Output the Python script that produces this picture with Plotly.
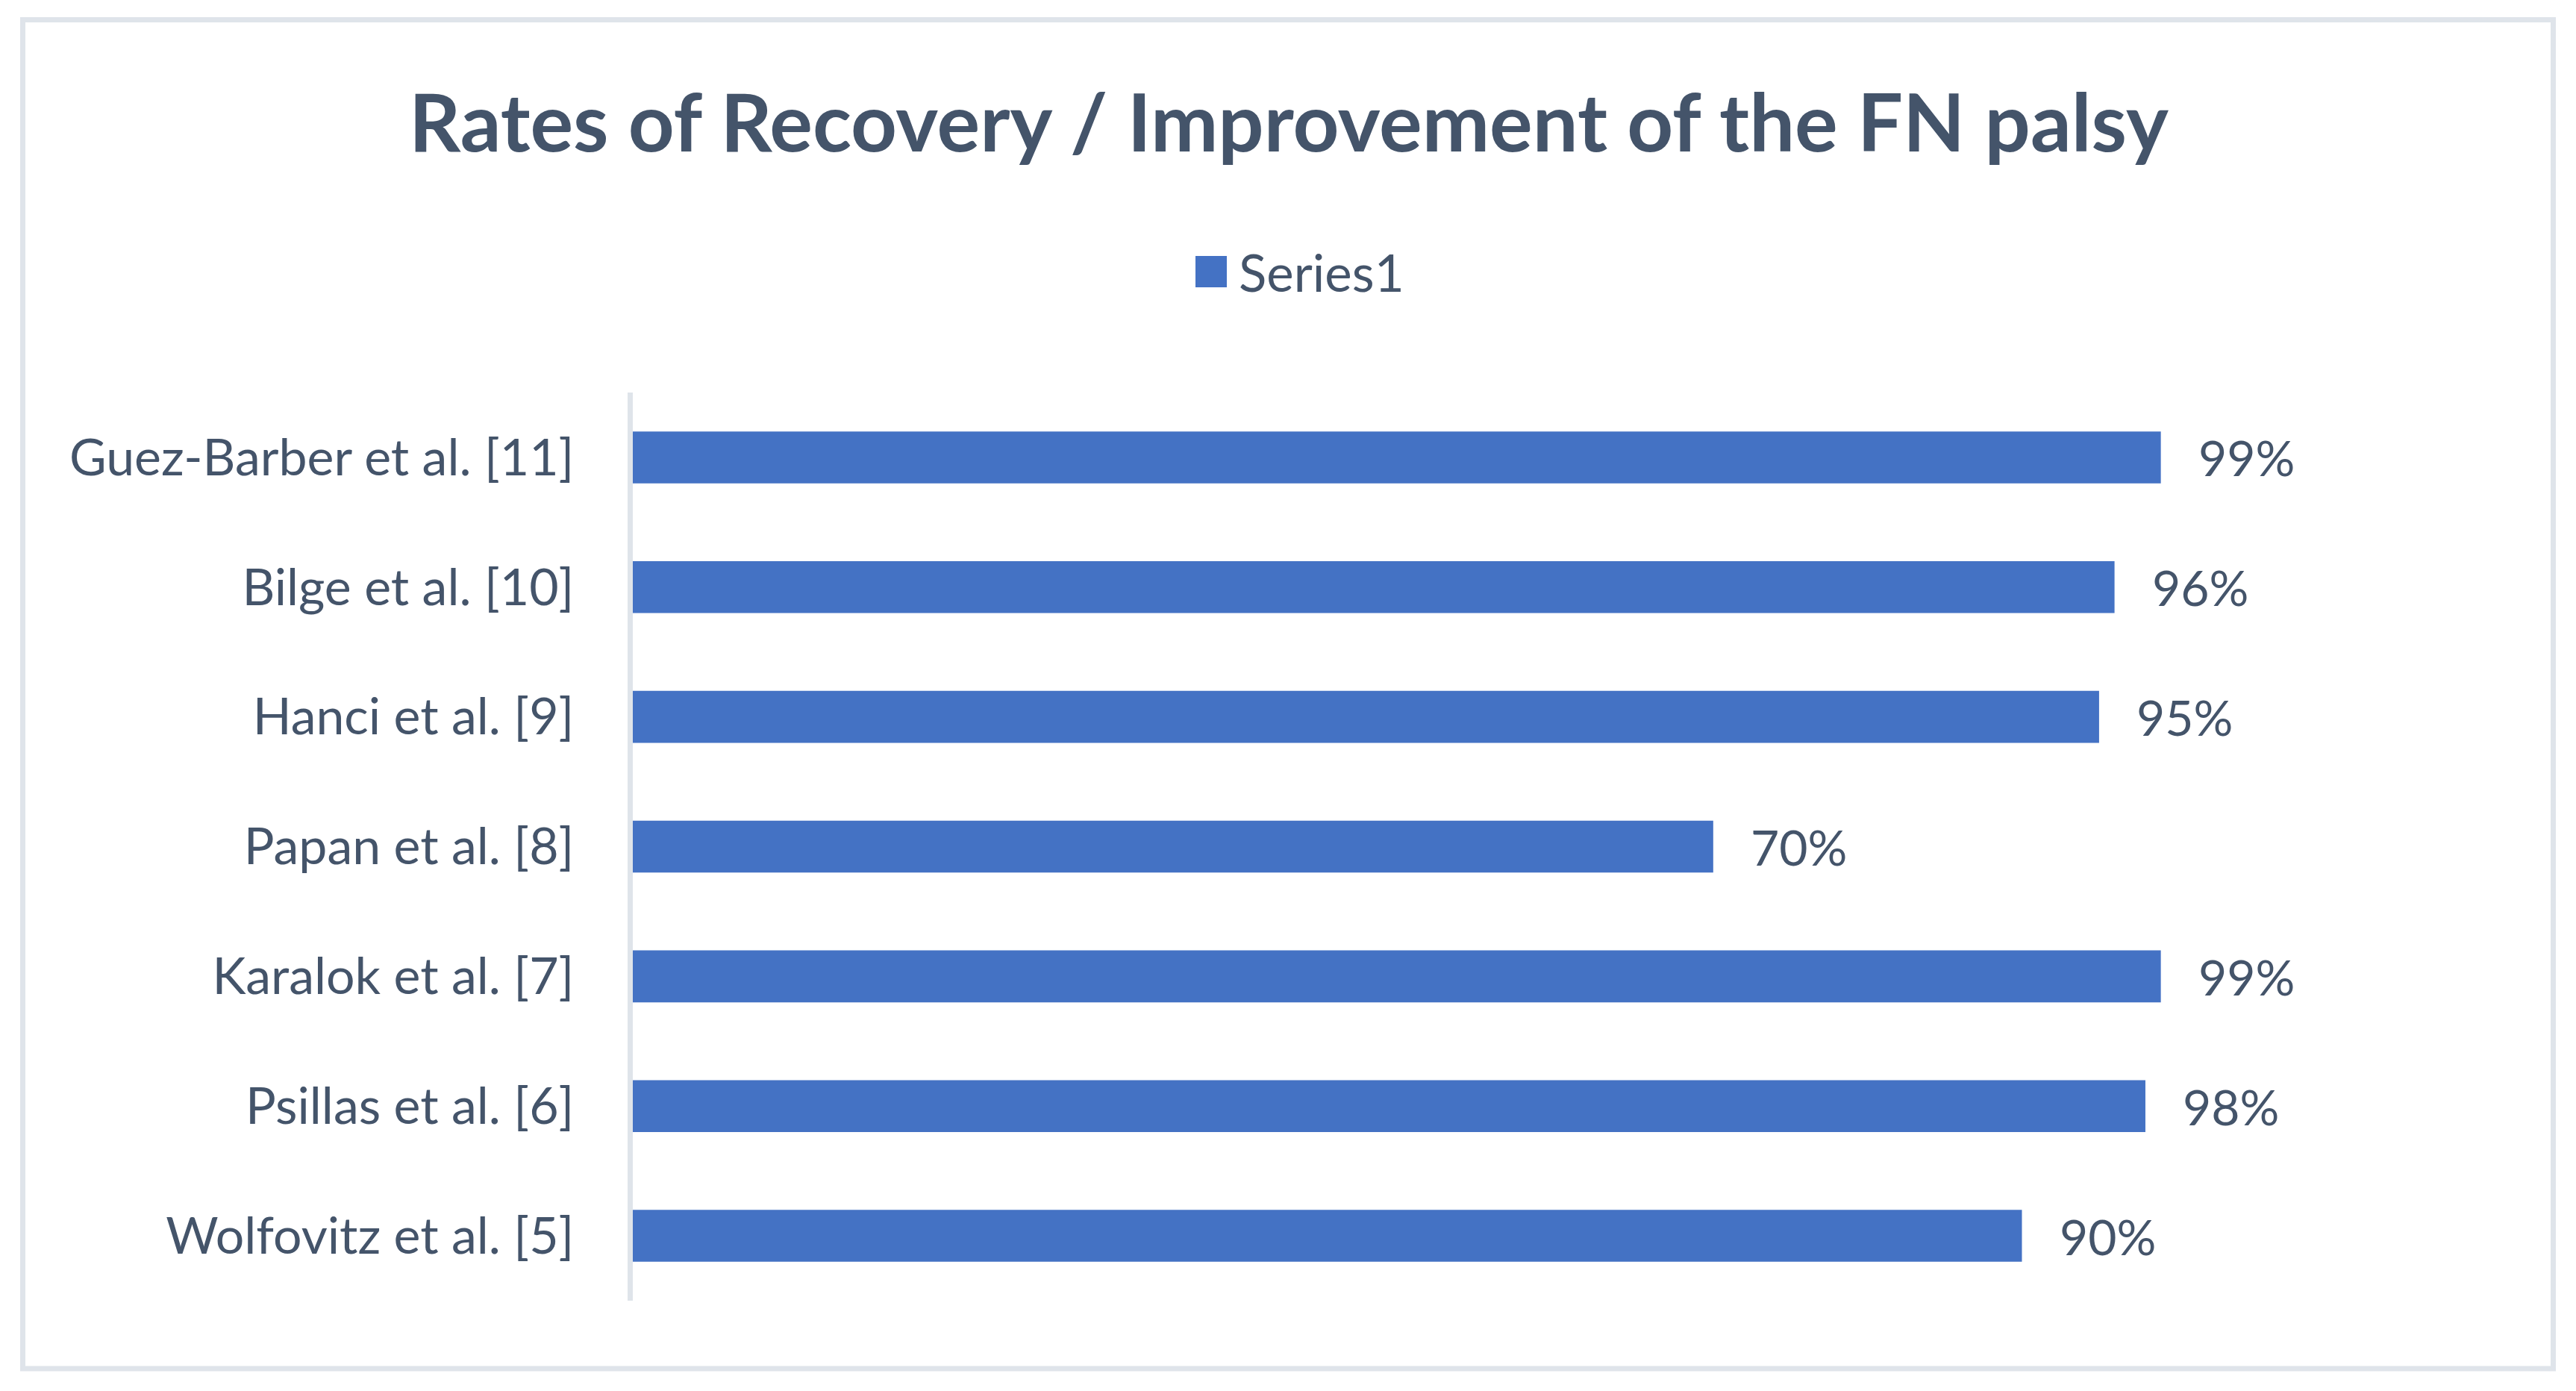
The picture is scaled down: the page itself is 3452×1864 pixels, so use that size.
import plotly.graph_objects as go

categories = ["Wolfovitz et al. [5]", "Psillas et al. [6]", "Karalok et al. [7]",
              "Papan et al. [8]", "Hanci et al. [9]", "Bilge et al. [10]",
              "Guez-Barber et al. [11]"]
values = [0.90, 0.98, 0.99, 0.70, 0.95, 0.96, 0.99]
labels = ["90%", "98%", "99%", "70%", "95%", "96%", "99%"]
series_name = "Series1"
title_text = "Rates of Recovery / Improvement of the FN palsy"

W, H = 3452, 1864
OFF = 8  # page offset compensation
L, T = 848 - OFF, 526 - OFF
PW, PH = 2482, 1217
R, B = W - L - PW, H - T - PH
TXT = "#44546a"
BAR = "#4472c4"
FONT = "Lato"

def px(x):
    return (x - OFF - L) / PW

def py(y):
    return (T + PH - (y - OFF)) / PH

fig = go.Figure()
fig.add_trace(go.Bar(
    x=values, y=categories, orientation="h", name=series_name,
    marker=dict(color=BAR, line=dict(width=0)),
    showlegend=False,
))

for c, v, t in zip(categories, values, labels):
    fig.add_annotation(x=v, y=c, xref="x", yref="y", text=t, showarrow=False,
                       xanchor="left", yanchor="middle", xshift=48,
                       font=dict(family=FONT, size=66, color=TXT))

# legend (custom)
fig.add_shape(type="rect", xref="paper", yref="paper",
              x0=px(1602), x1=px(1644), y0=py(385), y1=py(343),
              fillcolor=BAR, line=dict(width=0))
fig.add_annotation(x=px(1658), y=py(364), xref="paper", yref="paper",
                   text=series_name, showarrow=False, xanchor="left", yanchor="middle",
                   font=dict(family=FONT, size=69, color=TXT))

# outer border
fig.add_shape(type="rect", xref="paper", yref="paper",
              x0=px(30.5), x1=px(3421.5), y0=py(1834), y1=py(26.5),
              line=dict(color="#dfe4ea", width=7), fillcolor="rgba(0,0,0,0)", layer="below")

fig.update_layout(
    width=W, height=H,
    margin=dict(l=L, r=R, t=T, b=B, autoexpand=False),
    paper_bgcolor="white", plot_bgcolor="white",
    title=dict(text="<b>" + title_text + "</b>", x=(1727 - OFF) / W, xanchor="center",
               y=1 - (165 - OFF) / H, yanchor="middle", yref="container",
               font=dict(family=FONT, size=108, color=TXT)),
    bargap=0.6,
    xaxis=dict(range=[0, 1.2], visible=False, showgrid=False, zeroline=False),
    yaxis=dict(type="category", categoryorder="array", categoryarray=categories,
               showline=True, linecolor="#dfe4ea", linewidth=7,
               showgrid=False, zeroline=False, ticks="",
               ticklabelstandoff=58,
               tickfont=dict(family=FONT, size=68, color=TXT)),
    showlegend=False,
)

fig.write_html("out.html")
